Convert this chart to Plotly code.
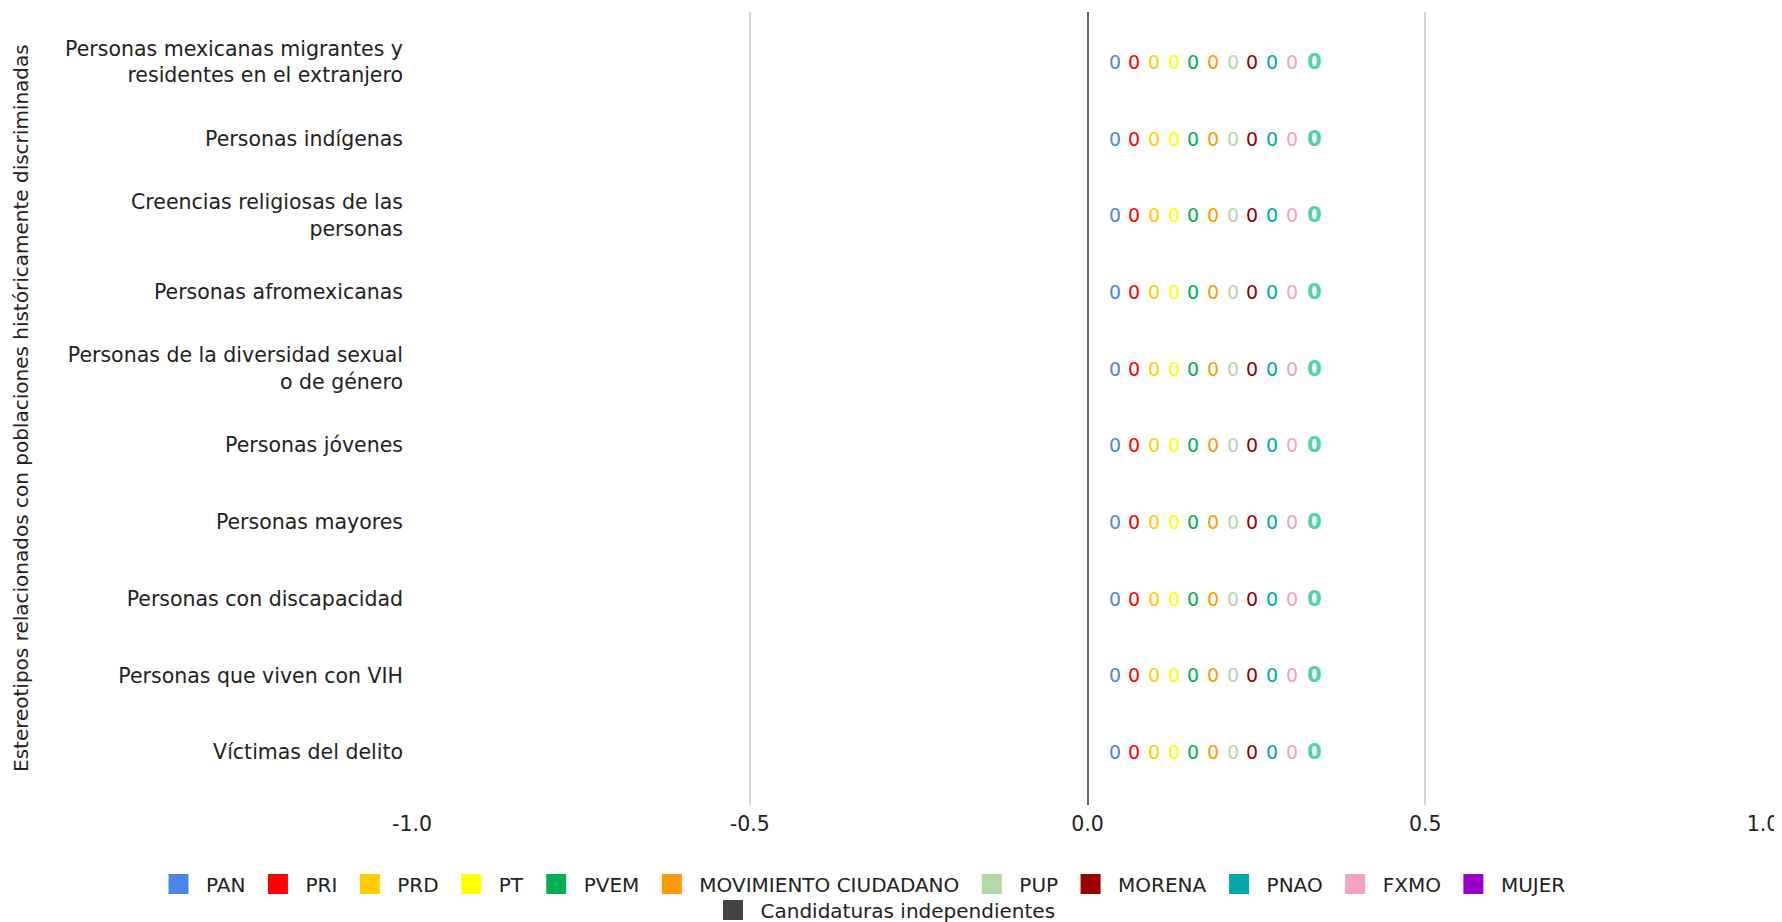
import plotly.graph_objects as go

categories = [
    "Personas mexicanas migrantes y<br>residentes en el extranjero",
    "Personas indígenas",
    "Creencias religiosas de las<br>personas",
    "Personas afromexicanas",
    "Personas de la diversidad sexual<br>o de género",
    "Personas jóvenes",
    "Personas mayores",
    "Personas con discapacidad",
    "Personas que viven con VIH",
    "Víctimas del delito",
]

parties = ["PAN", "PRI", "PRD", "PT", "PVEM", "MOVIMIENTO CIUDADANO", "PUP",
           "MORENA", "PNAO", "FXMO", "MUJER", "Candidaturas independientes"]
colors = ["#4A86E8", "#FF0000", "#FFCC00", "#FFFF00", "#00B050", "#FF9900", "#B6D7A8",
          "#990000", "#00A9A9", "#F4A1C2", "#9900CC", "#434343"]

values = {
    "PAN": [0] * 10, "PRI": [0] * 10, "PRD": [0] * 10, "PT": [0] * 10,
    "PVEM": [0] * 10, "MOVIMIENTO CIUDADANO": [0] * 10, "PUP": [0] * 10,
    "MORENA": [0] * 10, "PNAO": [0] * 10, "FXMO": [0] * 10,
    "MUJER": [None] * 10, "Candidaturas independientes": [None] * 10,
}
totals = [0] * 10
total_color = "#4FD2AF"
y_title = "Estereotipos relacionados con poblaciones históricamente discriminadas"

FONT = "DejaVu Sans, Verdana, sans-serif"
TXT = "#222222"

W, H = 1774, 914   # page body adds 8px offset
M_L, M_R, M_T, M_B = 404, 19, 4, 117
PLOT_H = H - M_T - M_B
PLOT_W = W - M_L - M_R

fig = go.Figure()
for i, (p, c) in enumerate(zip(parties, colors)):
    # data bars (all zero-length), no legend entry
    fig.add_trace(go.Bar(
        y=categories, x=values[p], orientation="h", name=p,
        marker=dict(color=c, line=dict(width=0)), hoverinfo="x+name",
        showlegend=False, legendgroup=p,
    ))
    # legend swatch for the party
    fig.add_trace(go.Scatter(
        y=[None], x=[None], mode="markers", name=p,
        marker=dict(symbol="square", size=16, color=c, line=dict(color=c, width=4)),
        showlegend=True, legendgroup=p, hoverinfo="skip",
        legend="legend2" if p == "Candidaturas independientes" else "legend",
    ))

annotations = []
label_step = 19.7
for ci, cat in enumerate(categories):
    k = 0
    for p, c in zip(parties, colors):
        v = values[p][ci]
        if v is None:
            continue
        annotations.append(dict(
            x=v, y=cat, xref="x", yref="y", text=str(v), showarrow=False,
            xanchor="center", yanchor="middle", xshift=27 + k * label_step,
            font=dict(family=FONT, size=19, color=c),
        ))
        k += 1
    annotations.append(dict(
        x=totals[ci], y=cat, xref="x", yref="y", text="<b>%d</b>" % totals[ci],
        showarrow=False, xanchor="center", yanchor="middle",
        xshift=27 + k * label_step + 3,
        font=dict(family=FONT, size=21, color=total_color),
    ))

# y-axis title as a rotated paper annotation (stable placement)
annotations.append(dict(
    x=(12.5 - M_L) / PLOT_W, y=0.5, xref="paper", yref="paper",
    text=y_title, textangle=-90, showarrow=False,
    xanchor="center", yanchor="middle",
    font=dict(family=FONT, size=20, color=TXT),
))

legend_common = dict(orientation="h", itemwidth=45,
                     font=dict(family=FONT, size=20, color=TXT),
                     bgcolor="rgba(0,0,0,0)")

plot_bottom = M_T + PLOT_H
fig.update_layout(
    width=W, height=H,
    barmode="relative",
    plot_bgcolor="white", paper_bgcolor="white",
    font=dict(family=FONT, size=20, color=TXT),
    margin=dict(l=M_L, r=M_R, t=M_T, b=M_B, autoexpand=False),
    xaxis=dict(range=[-1.0, 1.0], tickvals=[-1.0, -0.5, 0.0, 0.5, 1.0],
               ticktext=["-1.0", "-0.5", "0.0", "0.5", "1.0"],
               showgrid=True, gridcolor="#D4D4D4", gridwidth=1.5,
               zeroline=True, zerolinecolor="#666666", zerolinewidth=2,
               tickfont=dict(size=20.5, color=TXT), ticks="", automargin=False,
               ticklabelstandoff=4, layer="above traces"),
    yaxis=dict(categoryorder="array", categoryarray=categories,
               range=[9.69, -0.65], showgrid=False, zeroline=False,
               tickfont=dict(size=20.5, color=TXT), automargin=False,
               ticklabelstandoff=8),
    legend=dict(xref="paper", x=(151 - 8 - M_L) / PLOT_W, xanchor="left",
                yref="paper", y=(plot_bottom - 876) / PLOT_H, yanchor="middle",
                **legend_common),
    legend2=dict(xref="container", x=0.5 - 12 / W, xanchor="center",
                 yref="paper", y=(plot_bottom - 902) / PLOT_H, yanchor="middle",
                 **legend_common),
    annotations=annotations,
)

fig.write_html("out.html")
